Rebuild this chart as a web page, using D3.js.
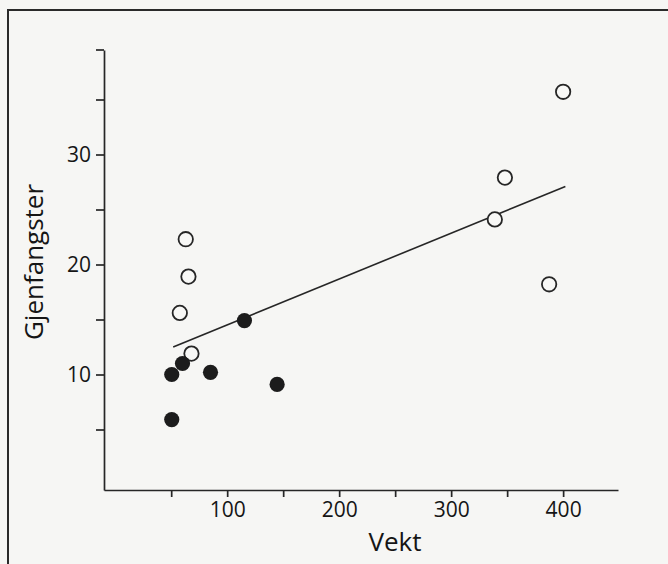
<!DOCTYPE html>
<html>
<head>
<meta charset="utf-8">
<script src="https://cdn.jsdelivr.net/npm/d3@7"></script>
<style>
  html, body { margin: 0; padding: 0; background: #f6f6f4; }
  svg { display: block; }
  .axis path, .axis line { stroke: #262626; stroke-width: 1.7px; }
  .axis text { font-family: "Open Sans", sans-serif; font-size: 21px; fill: #151515; }
  .title { font-family: "Open Sans", sans-serif; font-size: 26px; fill: #151515; }
</style>
</head>
<body>
<svg id="chart" width="668" height="564"></svg>
<script>
// open circles
var openX = [400, 348, 339, 387.5, 63, 65.4, 57.7, 68.1];
var openY = [35.7, 27.9, 24.1, 18.2, 22.3, 18.9, 15.6, 11.9];
// filled circles
var filledX = [115.4, 50.5, 60.1, 85.1, 144.6, 50.5];
var filledY = [14.9, 10.0, 11.0, 10.2, 9.1, 5.9];
// fitted line, endpoints
var fitX = [51.8, 402];
var fitY = [12.5, 27.1];

var xTicks = [50, 100, 150, 200, 250, 300, 350, 400];
var xLabels = [100, 200, 300, 400];
var yTicks = [5, 10, 15, 20, 25, 30, 35];
var yLabels = [10, 20, 30];

var svg = d3.select('#chart');

// frame
svg.append('rect')
  .attr('x', 8).attr('y', 10)
  .attr('width', 700).attr('height', 600)
  .attr('fill', 'none')
  .attr('stroke', '#2a2a2a')
  .attr('stroke-width', 2);

var x = d3.scaleLinear().domain([-10, 449]).range([104, 618]);
var y = d3.scaleLinear().domain([-0.5, 39.5]).range([490, 50]);

var xAxis = d3.axisBottom(x)
  .tickValues(xTicks)
  .tickSize(7)
  .tickSizeOuter(0)
  .tickPadding(5)
  .tickFormat(function(d) { return xLabels.indexOf(d) >= 0 ? d : ''; });

var yAxis = d3.axisLeft(y)
  .tickValues(yTicks)
  .tickSize(8)
  .tickSizeOuter(0)
  .tickPadding(5)
  .tickFormat(function(d) { return yLabels.indexOf(d) >= 0 ? d : ''; });

svg.append('g')
  .attr('class', 'axis')
  .attr('transform', 'translate(0,' + y.range()[0] + ')')
  .call(xAxis);

var gy = svg.append('g')
  .attr('class', 'axis')
  .attr('transform', 'translate(' + x.range()[0] + ',0)')
  .call(yAxis);

// cap at the top end of the y axis
gy.append('line')
  .attr('x1', -8).attr('x2', 0)
  .attr('y1', y.range()[1]).attr('y2', y.range()[1]);

svg.selectAll('.axis .domain').attr('fill', 'none');

// fitted line
svg.append('line')
  .attr('x1', x(fitX[0])).attr('y1', y(fitY[0]))
  .attr('x2', x(fitX[1])).attr('y2', y(fitY[1]))
  .attr('stroke', '#262626')
  .attr('stroke-width', 1.6);

svg.selectAll('circle.open')
  .data(d3.zip(openX, openY))
  .enter().append('circle')
  .attr('class', 'open')
  .attr('cx', function(d) { return x(d[0]); })
  .attr('cy', function(d) { return y(d[1]); })
  .attr('r', 7.2)
  .attr('fill', '#f8f8f6')
  .attr('stroke', '#262626')
  .attr('stroke-width', 1.8);

svg.selectAll('circle.filled')
  .data(d3.zip(filledX, filledY))
  .enter().append('circle')
  .attr('class', 'filled')
  .attr('cx', function(d) { return x(d[0]); })
  .attr('cy', function(d) { return y(d[1]); })
  .attr('r', 7.6)
  .attr('fill', '#1c1c1c');

// axis titles
svg.append('text')
  .attr('class', 'title')
  .attr('x', 395).attr('y', 551)
  .attr('text-anchor', 'middle')
  .text('Vekt');

svg.append('text')
  .attr('class', 'title')
  .attr('transform', 'translate(43,262) rotate(-90)')
  .attr('text-anchor', 'middle')
  .text('Gjenfangster');
</script>
</body>
</html>
